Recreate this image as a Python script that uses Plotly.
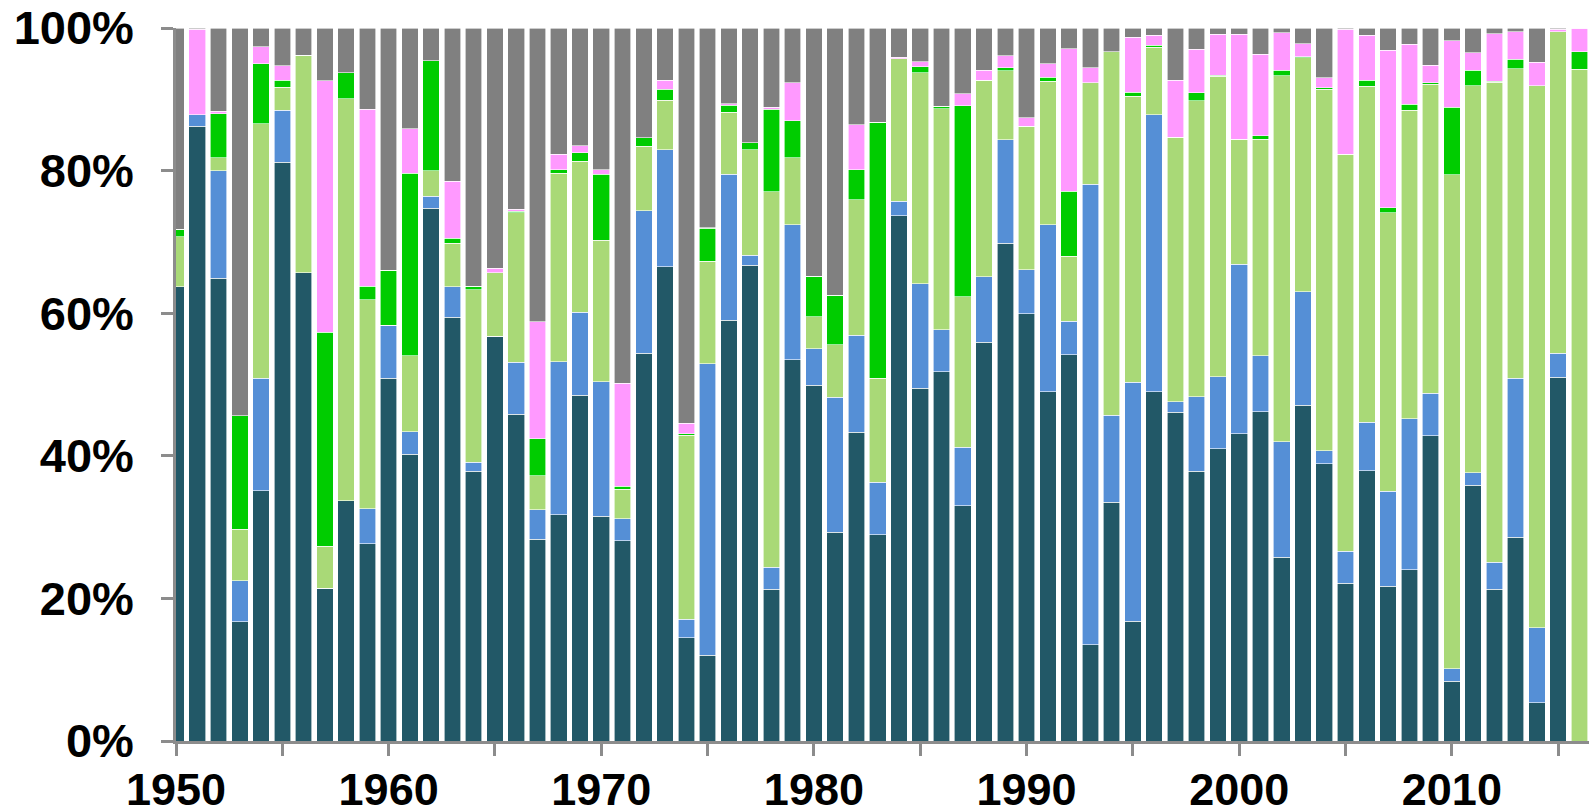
import plotly.graph_objects as go

years = list(range(1950, 2017))

# Segment shares (%), bottom to top
teal = [63.7, 86.2, 64.9, 16.7, 35.1, 81.2, 65.7, 21.4, 33.7, 27.7,
        50.9, 40.2, 74.7, 59.4, 37.8, 56.8, 45.8, 28.3, 31.7, 48.5,
        31.5, 28.1, 54.4, 66.5, 14.5, 12.0, 59.0, 66.7, 21.3, 53.5,
        49.9, 29.3, 43.3, 28.9, 73.7, 49.5, 51.8, 33.0, 55.9, 69.8,
        59.9, 49.0, 54.2, 13.5, 33.5, 16.8, 49.0, 46.1, 37.8, 41.0,
        43.1, 46.2, 25.8, 47.1, 38.9, 22.1, 37.9, 21.7, 24.0, 42.8,
        8.4, 35.9, 21.3, 28.6, 5.4, 51.0, 0.0]
blue = [0.0, 1.6, 15.1, 5.8, 15.8, 7.3, 0.0, 0.0, 0.0, 4.9,
        7.4, 3.2, 1.7, 4.3, 1.3, 0.0, 7.3, 4.1, 21.5, 11.6,
        18.9, 3.1, 20.0, 16.4, 2.6, 40.9, 20.5, 1.4, 3.1, 18.9,
        5.1, 18.9, 13.6, 7.4, 2.0, 14.6, 5.9, 8.2, 9.2, 14.5,
        6.2, 23.4, 4.7, 64.6, 12.2, 33.5, 38.8, 1.5, 10.5, 10.1,
        23.8, 7.8, 16.2, 15.9, 1.8, 4.5, 6.8, 13.3, 21.2, 6.0,
        1.7, 1.7, 3.8, 22.3, 10.5, 3.4, 0.0]
light_green = [7.0, 0.0, 1.8, 7.2, 35.7, 3.2, 30.4, 5.9, 56.4, 29.3,
               0.0, 10.6, 3.6, 6.1, 24.2, 8.9, 21.0, 4.8, 26.4, 21.2,
               19.8, 4.1, 9.0, 7.0, 25.8, 14.4, 8.7, 14.8, 52.6, 9.4,
               4.5, 7.4, 19.0, 14.6, 20.0, 29.6, 31.0, 21.1, 27.6, 9.7,
               20.1, 20.1, 9.1, 14.2, 51.0, 40.1, 9.5, 37.1, 41.5, 42.1,
               17.5, 30.4, 51.3, 32.8, 50.7, 55.7, 47.1, 39.1, 43.3, 43.3,
               69.3, 54.3, 67.3, 43.4, 76.0, 45.1, 94.2]
green = [1.1, 0.0, 6.2, 15.9, 8.4, 1.0, 0.1, 30.0, 3.6, 1.9,
         7.7, 25.6, 15.4, 0.7, 0.5, 0.0, 0.2, 5.2, 0.5, 1.2,
         9.3, 0.4, 1.2, 1.5, 0.2, 4.6, 1.0, 1.0, 11.6, 5.2,
         5.7, 6.9, 4.2, 35.9, 0.0, 0.9, 0.3, 26.8, 0.0, 0.4,
         0.0, 0.6, 9.1, 0.0, 0.0, 0.6, 0.3, 0.0, 1.1, 0.2,
         0.0, 0.5, 0.8, 0.2, 0.2, 0.0, 0.9, 0.7, 0.8, 0.2,
         9.5, 2.2, 0.1, 1.3, 0.0, 0.0, 2.5]
pink = [0.0, 12.0, 0.3, 0.0, 2.4, 2.0, 0.0, 35.3, 0.0, 24.8,
        0.0, 6.3, 0.0, 8.0, 0.0, 0.6, 0.3, 16.4, 2.2, 1.0,
        0.6, 14.5, 0.0, 1.3, 1.5, 0.1, 0.2, 0.0, 0.3, 5.3,
        0.0, 0.0, 6.3, 0.0, 0.2, 0.7, 0.0, 1.7, 1.4, 1.7,
        1.2, 1.9, 20.0, 2.1, 0.0, 7.7, 1.4, 8.0, 6.1, 5.7,
        14.7, 11.4, 5.2, 1.8, 1.4, 17.5, 6.3, 22.1, 8.4, 2.5,
        9.3, 2.4, 6.7, 3.9, 3.3, 0.3, 3.3]
gray = [28.2, 0.2, 11.7, 54.4, 2.6, 5.3, 3.8, 7.4, 6.3, 11.4,
        34.0, 14.1, 4.6, 21.5, 36.2, 33.7, 25.4, 41.2, 17.7, 16.5,
        19.9, 49.8, 15.4, 7.3, 55.4, 28.0, 10.6, 16.1, 11.1, 7.7,
        34.8, 37.5, 13.6, 13.2, 4.1, 4.7, 11.0, 9.2, 5.9, 3.9,
        12.6, 5.0, 2.9, 5.6, 3.3, 1.3, 1.0, 7.3, 3.0, 0.9,
        0.9, 3.7, 0.7, 2.2, 7.0, 0.2, 1.0, 3.1, 2.3, 5.2,
        1.8, 3.5, 0.8, 0.5, 4.8, 0.2, 0.0]

series = [
    ("teal", teal, "#225867"),
    ("blue", blue, "#558fd6"),
    ("light green", light_green, "#a9d977"),
    ("green", green, "#00cc00"),
    ("pink", pink, "#ff99ff"),
    ("gray", gray, "#808080"),
]

x_tickvals = list(range(1950, 2016, 5))
x_ticktext = ["1950", "", "1960", "", "1970", "", "1980", "", "1990", "",
              "2000", "", "2010", ""]
y_tickvals = [0, 20, 40, 60, 80, 100]
y_ticktext = ["0%", "20%", "40%", "60%", "80%", "100%"]

fig = go.Figure()
for name, vals, color in series:
    fig.add_trace(go.Bar(
        x=years, y=vals, name=name,
        marker=dict(color=color, line=dict(color="white", width=0.6)),
    ))

axis_color = "#8c8c8c"
family = "Liberation Sans, Arial, sans-serif"
xfont = dict(family=family, size=45, color="black", weight="bold")
yfont = dict(family=family, size=47, color="black", weight="bold")

fig.update_layout(
    barmode="stack",
    bargap=0.22,
    showlegend=False,
    width=1591, height=809,
    margin=dict(l=176, r=2, t=28, b=68),
    paper_bgcolor="white",
    plot_bgcolor="white",
    xaxis=dict(
        range=[1950, 2016.45],
        tickvals=x_tickvals, ticktext=x_ticktext,
        ticks="outside", ticklen=12, tickwidth=2.5, tickcolor=axis_color,
        showline=True, linecolor=axis_color, linewidth=2.5,
        showgrid=False, zeroline=False,
        tickfont=xfont, automargin=False, ticklabelstandoff=-5,
    ),
    yaxis=dict(
        range=[0, 100],
        tickvals=y_tickvals, ticktext=y_ticktext,
        ticks="outside", ticklen=12, tickwidth=2.5, tickcolor=axis_color,
        showline=True, linecolor=axis_color, linewidth=2.5,
        showgrid=False, zeroline=False,
        tickfont=yfont, automargin=False, ticklabelstandoff=18,
    ),
)

fig.write_html(
    "out.html",
    config={"displayModeBar": False},
    post_script="document.body.style.margin='0';document.body.style.overflow='hidden';",
)
